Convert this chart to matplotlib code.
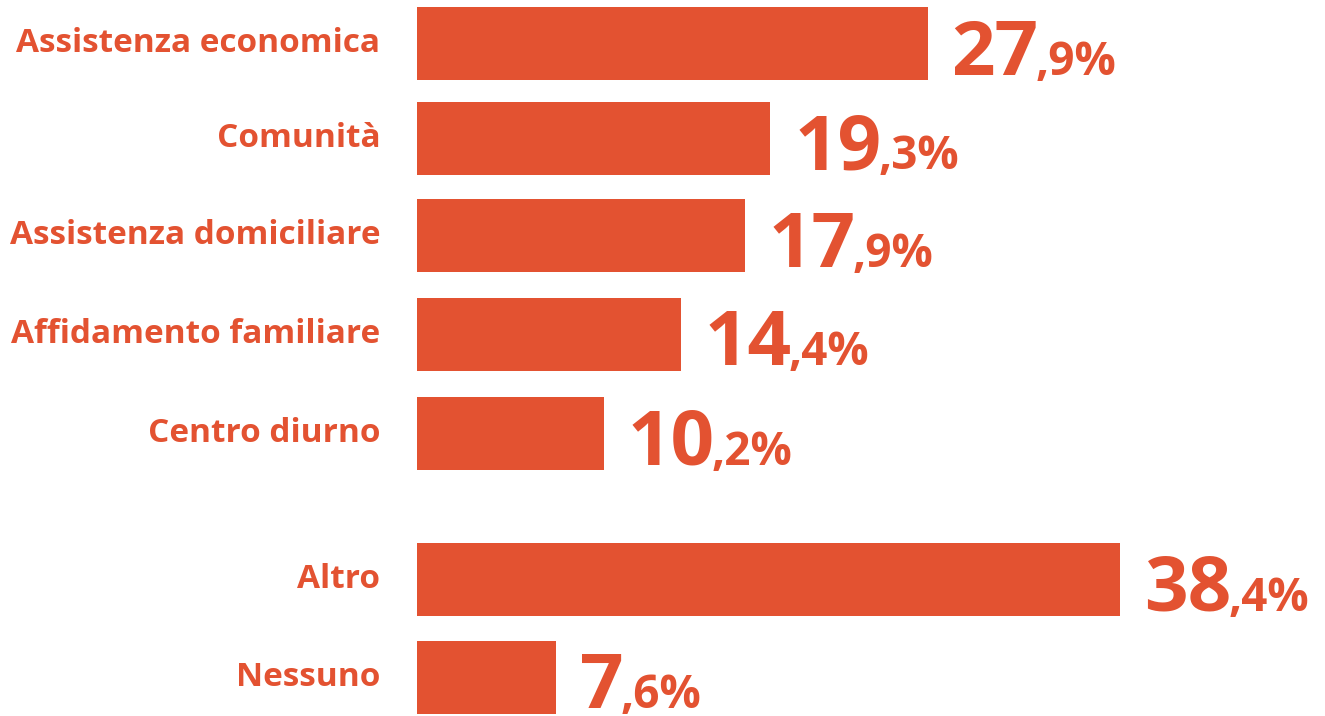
import matplotlib.pyplot as plt

# data
categories = ['Assistenza economica', 'Comunità', 'Assistenza domiciliare',
              'Affidamento familiare', 'Centro diurno', 'Altro', 'Nessuno']
values = [27.9, 19.3, 17.9, 14.4, 10.2, 38.4, 7.6]
positions = [0, 0.97, 1.97, 2.98, 4.0, 5.5, 6.5]   # gap before the last two rows

COLOR = '#E35231'
FONT = 'Open Sans'

fig = plt.figure(figsize=(13.25, 7.16), dpi=100)
ax = fig.add_axes([417 / 1325, 0, 908 / 1325, 1])
ax.barh(positions, values, height=0.75, color=COLOR)
ax.set_xlim(0, 49.6)
ax.set_ylim(6.897, -0.447)
ax.axis('off')

# category labels on the left
for pos, cat in zip(positions, categories):
    ax.text(-2.0, pos, cat, ha='right', va='center', color=COLOR,
            fontsize=24, fontweight='bold', family=FONT)

# value labels: big integer part, smaller decimal part
fig.canvas.draw()
renderer = fig.canvas.get_renderer()
inv = ax.transData.inverted()
for pos, val in zip(positions, values):
    whole, dec = ('%.1f' % val).split('.')
    y = pos + 0.32
    t = ax.text(val + 1.3, y, whole, ha='left', va='baseline', color=COLOR,
                fontsize=55, fontweight='bold', family=FONT)
    bb = t.get_window_extent(renderer)
    x_end = inv.transform((bb.x1, bb.y0))[0]
    ax.text(x_end - 0.15, y, ',' + dec + '%', ha='left', va='baseline',
            color=COLOR, fontsize=33, fontweight='bold', family=FONT)

fig.savefig('out.png', dpi=100, facecolor='white')
